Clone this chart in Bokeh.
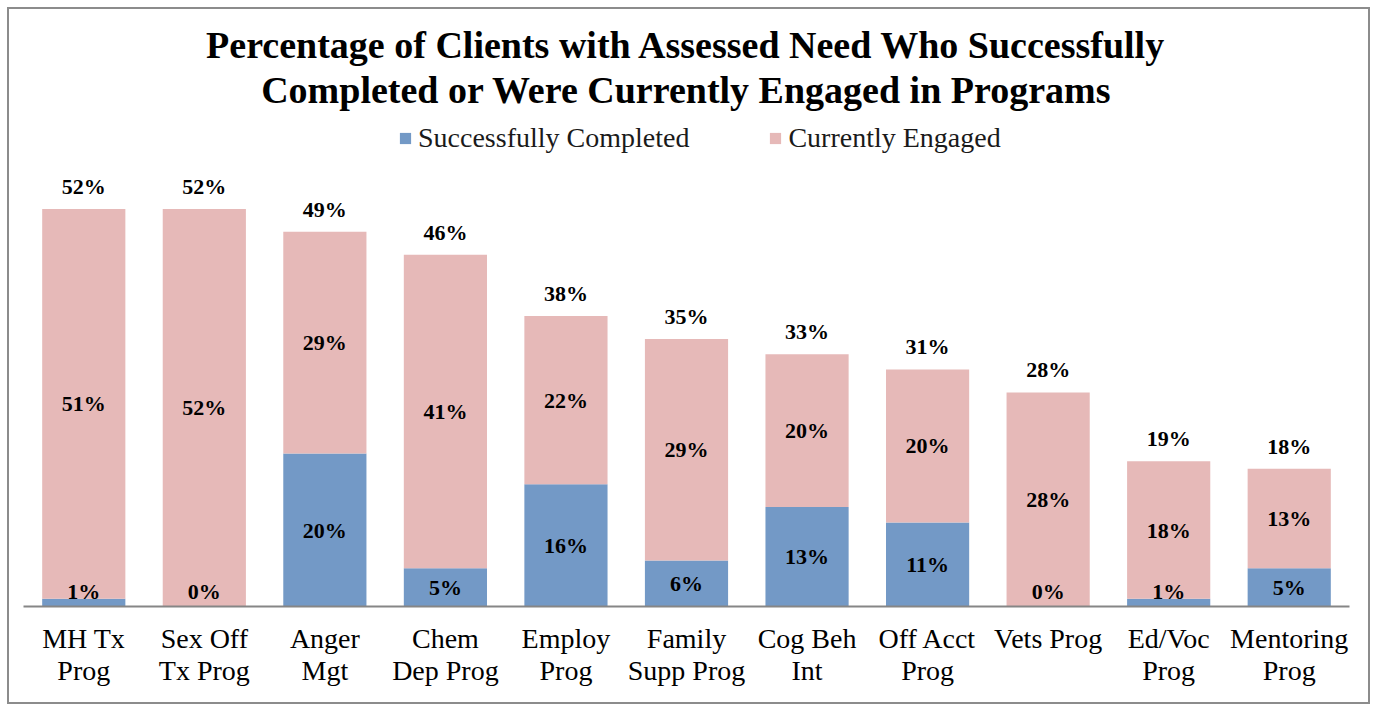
from bokeh.plotting import figure
from bokeh.models import ColumnDataSource, Legend, LegendItem, Title
from bokeh.core.properties import value
from bokeh.embed import file_html
from bokeh.resources import INLINE

categories = ["MH Tx\nProg", "Sex Off\nTx Prog", "Anger\nMgt", "Chem\nDep Prog", "Employ\nProg",
              "Family\nSupp Prog", "Cog Beh\nInt", "Off Acct\nProg", "Vets Prog", "Ed/Voc\nProg",
              "Mentoring\nProg"]
completed = [1, 0, 20, 5, 16, 6, 13, 11, 0, 1, 5]
engaged = [51, 52, 29, 41, 22, 29, 20, 20, 28, 18, 13]
series = ["Successfully Completed", "Currently Engaged"]
title_lines = ["Percentage of Clients with Assessed Need Who Successfully",
               "Completed or Were Currently Engaged in Programs"]

BLUE = "#7399C6"
PINK = "#E6B9B8"
FONT = "Liberation Serif"

totals = [c + e for c, e in zip(completed, engaged)]
src = ColumnDataSource(dict(
    x=categories,
    completed=completed,
    engaged=engaged,
    total=totals,
    comp_y=[max(c / 2, 2.0) for c in completed],
    eng_y=[c + e / 2 for c, e in zip(completed, engaged)],
    comp_lbl=[f"{c}%" for c in completed],
    eng_lbl=[f"{e}%" for e in engaged],
    tot_lbl=[f"{t}%" for t in totals],
))

p = figure(x_range=categories, y_range=(0, 63.3), width=1363, height=697,
           output_backend="svg", toolbar_location=None, title=None,
           min_border_left=14, min_border_right=23, min_border_top=113, min_border_bottom=100)
p.styles = {"border": "2px solid #8c8c8c", "box-sizing": "border-box",
            "margin-left": "7px", "margin-top": "7px"}

for i, line in enumerate(reversed(title_lines)):
    t = Title(text=line, align="center", text_font=FONT, text_font_size="38px",
              text_font_style="bold", text_color="black",
              standoff=23 if i == 0 else -20)
    p.add_layout(t, "above")

r = p.vbar_stack(["completed", "engaged"], x="x", width=0.69, source=src,
                 color=[BLUE, PINK], line_color=None)

common = dict(text_font=value(FONT), text_font_size="22px", text_font_style="bold",
              text_color="black", text_align="center")
p.text(x="x", y="comp_y", text="comp_lbl", source=src, text_baseline="middle", **common)
p.text(x="x", y="eng_y", text="eng_lbl", source=src, text_baseline="middle", **common)
p.text(x="x", y="total", text="tot_lbl", source=src, text_baseline="bottom", y_offset=-10, **common)

legend = Legend(items=[LegendItem(label=series[0], renderers=[r[0]]),
                       LegendItem(label=series[1], renderers=[r[1]])],
                orientation="horizontal", location=(375, 452))
legend.label_text_font = FONT
legend.label_text_font_size = "28px"
legend.label_text_color = "#1a1a1a"
legend.glyph_width = 14
legend.glyph_height = 14
legend.spacing = 79
legend.label_standoff = 6
legend.border_line_color = None
legend.background_fill_alpha = 0
legend.margin = 0
legend.padding = 0
p.add_layout(legend)

p.yaxis.visible = False
p.xgrid.grid_line_color = None
p.ygrid.grid_line_color = None
p.outline_line_color = None
p.xaxis.axis_line_color = "#868686"
p.xaxis.axis_line_width = 2
p.xaxis.major_tick_line_color = None
p.xaxis.minor_tick_line_color = None
p.xaxis.major_label_text_font = FONT
p.xaxis.major_label_text_font_size = "28px"
p.xaxis.major_label_text_line_height = 1.05
p.xaxis.major_label_text_color = "black"
p.xaxis.major_label_standoff = 10
p.x_range.range_padding = 0

open("out.html", "w").write(file_html(p, INLINE))
